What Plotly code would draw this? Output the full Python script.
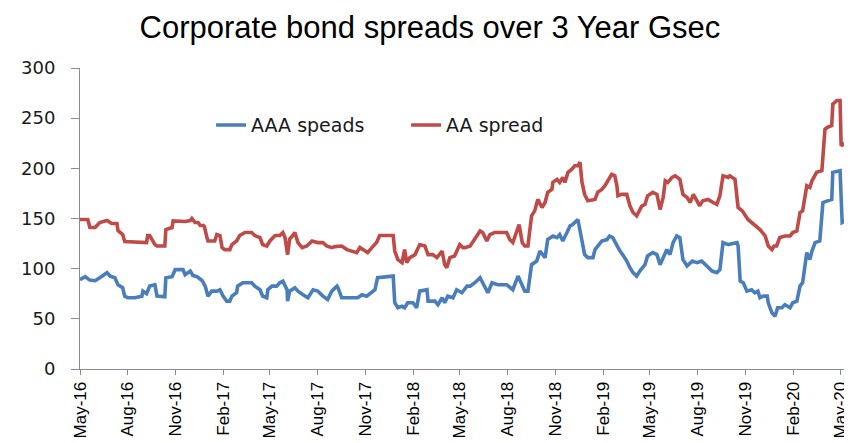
import plotly.graph_objects as go

# ---- data ----
aaa_dates = [
    "2016-05-01", "2016-05-11", "2016-05-20", "2016-05-30", "2016-06-08", "2016-06-22", "2016-06-28",
    "2016-07-07", "2016-07-13", "2016-07-22", "2016-07-26", "2016-08-01", "2016-08-14", "2016-08-28",
    "2016-08-30", "2016-09-06", "2016-09-12", "2016-09-22", "2016-09-26", "2016-10-11", "2016-10-13",
    "2016-10-25", "2016-10-31", "2016-11-15", "2016-11-19", "2016-11-29", "2016-12-04", "2016-12-12",
    "2016-12-22", "2016-12-28", "2017-01-02", "2017-01-09", "2017-01-19", "2017-01-25", "2017-01-31",
    "2017-02-07", "2017-02-13", "2017-02-17", "2017-02-26", "2017-02-28", "2017-03-10", "2017-03-27",
    "2017-04-02", "2017-04-12", "2017-04-17", "2017-04-25", "2017-04-27", "2017-05-05", "2017-05-14",
    "2017-05-20", "2017-05-26", "2017-06-03", "2017-06-04", "2017-06-08", "2017-06-18", "2017-06-24",
    "2017-07-03", "2017-07-13", "2017-07-23", "2017-08-01", "2017-08-11", "2017-08-20", "2017-08-28",
    "2017-09-07", "2017-09-09", "2017-09-16", "2017-10-17", "2017-10-25", "2017-11-03", "2017-11-13",
    "2017-11-19", "2017-11-24", "2017-12-24", "2017-12-27", "2018-01-02", "2018-01-10", "2018-01-15",
    "2018-01-21", "2018-01-31", "2018-02-07", "2018-02-13", "2018-02-27", "2018-03-01", "2018-03-14",
    "2018-03-20", "2018-03-28", "2018-04-02", "2018-04-08", "2018-04-18", "2018-04-25", "2018-05-05",
    "2018-05-15", "2018-05-21", "2018-05-30", "2018-06-09", "2018-06-14", "2018-06-24", "2018-07-02",
    "2018-07-13", "2018-07-30", "2018-08-05", "2018-08-11", "2018-08-21", "2018-08-29", "2018-09-03",
    "2018-09-09", "2018-09-16", "2018-09-26", "2018-10-02", "2018-10-12", "2018-10-17", "2018-10-27",
    "2018-11-04", "2018-11-09", "2018-11-15", "2018-11-23", "2018-11-29", "2018-12-04", "2018-12-14",
    "2018-12-22", "2018-12-27", "2019-01-02", "2019-01-12", "2019-01-16", "2019-01-21", "2019-01-29",
    "2019-02-08", "2019-02-13", "2019-02-19", "2019-02-27", "2019-03-05", "2019-03-10", "2019-03-18",
    "2019-03-24", "2019-03-30", "2019-04-06", "2019-04-12", "2019-04-22", "2019-04-27", "2019-05-07",
    "2019-05-15", "2019-05-21", "2019-05-27", "2019-06-03", "2019-06-09", "2019-06-15", "2019-06-22",
    "2019-06-28", "2019-07-04", "2019-07-12", "2019-07-22", "2019-07-31", "2019-08-09", "2019-08-19",
    "2019-08-29", "2019-09-07", "2019-09-13", "2019-09-19", "2019-09-29", "2019-10-16", "2019-10-18",
    "2019-10-22", "2019-10-28", "2019-11-04", "2019-11-13", "2019-11-19", "2019-11-25", "2019-11-29",
    "2019-12-05", "2019-12-13", "2019-12-15", "2019-12-22", "2019-12-28", "2020-01-02", "2020-01-10",
    "2020-01-16", "2020-01-26", "2020-01-31", "2020-02-08", "2020-02-14", "2020-02-19", "2020-02-27",
    "2020-03-04", "2020-03-08", "2020-03-14", "2020-03-23", "2020-03-29", "2020-04-07", "2020-04-15",
    "2020-04-17", "2020-04-27", "2020-05-01", "2020-05-05", "2020-05-10", "2020-05-16",
]
aaa_values = [
    89, 92, 88.6, 88, 91, 96, 92.6,
    91, 84, 81, 72.6, 71, 71, 72.6,
    77.6, 75, 82.6, 84, 72.6, 72, 91,
    92, 99, 99, 94, 97.6, 93.3, 92,
    88, 82, 72.6, 77.6, 77.6, 79, 72.6,
    67.6, 67.6, 72.6, 76, 82.6, 86, 86,
    82.6, 79, 72.6, 71, 79, 82.6, 82.6,
    86, 87.6, 79, 67.6, 77.6, 81, 77.6,
    74.3, 71, 79, 77.6, 72.6, 69.3, 77.6,
    82.6, 81, 71, 71, 74, 72.6, 76,
    79, 91, 92.6, 66, 61, 62.6, 61,
    66, 66, 61, 77.6, 79, 67.6, 67.6,
    64, 71, 66, 72.6, 71, 79, 76,
    82.6, 82.6, 86, 91, 86, 76, 86,
    84, 84, 81, 79, 92.6, 82.6, 77.6,
    77.6, 104, 107.6, 117.6, 111, 129, 132.6,
    131, 134, 127.6, 136, 142.6, 144, 149,
    127.6, 114, 111, 111, 119, 122.6, 127.6,
    129, 132.6, 131, 122.6, 117.6, 114, 107.6,
    101, 96, 92.6, 97.6, 104, 112.6, 116,
    114, 104, 111, 119, 114, 126, 132.6,
    131, 109, 102.6, 107.6, 106, 107.6, 102.6,
    97.6, 96, 99, 126, 124, 126, 122.6,
    87.6, 86, 77.6, 79, 76, 77.6, 71,
    72.6, 72.6, 66, 56, 52.6, 61, 61,
    64, 61, 66, 67.6, 82.6, 86, 116,
    109, 117.6, 126, 127.6, 166, 167.6, 169,
    196, 197.6, 197.6, 146, 147.6, 149,
]

aa_dates = [
    "2016-05-01", "2016-05-16", "2016-05-20", "2016-05-30", "2016-06-08", "2016-06-22", "2016-07-01",
    "2016-07-11", "2016-07-13", "2016-07-22", "2016-07-26", "2016-09-06", "2016-09-08", "2016-09-12",
    "2016-09-22", "2016-09-26", "2016-10-11", "2016-10-13", "2016-10-25", "2016-10-27", "2016-11-19",
    "2016-11-29", "2016-12-02", "2016-12-08", "2016-12-14", "2016-12-18", "2016-12-24", "2016-12-26",
    "2016-12-31", "2017-01-02", "2017-01-15", "2017-01-19", "2017-01-25", "2017-01-29", "2017-02-03",
    "2017-02-13", "2017-02-17", "2017-02-26", "2017-03-04", "2017-03-14", "2017-03-27", "2017-04-02",
    "2017-04-12", "2017-04-17", "2017-04-25", "2017-05-01", "2017-05-11", "2017-05-20", "2017-05-26",
    "2017-05-30", "2017-06-04", "2017-06-08", "2017-06-14", "2017-06-18", "2017-06-24", "2017-07-02",
    "2017-07-11", "2017-07-21", "2017-08-01", "2017-08-11", "2017-08-18", "2017-08-28", "2017-09-03",
    "2017-09-16", "2017-09-26", "2017-10-05", "2017-10-15", "2017-10-21", "2017-10-27", "2017-11-05",
    "2017-11-13", "2017-11-22", "2017-11-28", "2017-12-24", "2017-12-27", "2018-01-02", "2018-01-10",
    "2018-01-15", "2018-01-19", "2018-01-25", "2018-02-04", "2018-02-13", "2018-02-23", "2018-03-01",
    "2018-03-10", "2018-03-18", "2018-03-28", "2018-04-02", "2018-04-06", "2018-04-12", "2018-04-21",
    "2018-05-01", "2018-05-07", "2018-05-11", "2018-05-21", "2018-05-30", "2018-06-09", "2018-06-14",
    "2018-06-22", "2018-06-28", "2018-07-07", "2018-07-30", "2018-08-05", "2018-08-11", "2018-08-19",
    "2018-08-23", "2018-08-29", "2018-09-03", "2018-09-09", "2018-09-16", "2018-09-22", "2018-09-28",
    "2018-10-06", "2018-10-12", "2018-10-17", "2018-10-25", "2018-10-27", "2018-11-04", "2018-11-09",
    "2018-11-15", "2018-11-19", "2018-11-25", "2018-12-02", "2018-12-08", "2018-12-14", "2018-12-18",
    "2018-12-22", "2018-12-27", "2019-01-02", "2019-01-12", "2019-01-16", "2019-01-21", "2019-01-29",
    "2019-02-04", "2019-02-10", "2019-02-17", "2019-02-23", "2019-02-27", "2019-03-01", "2019-03-08",
    "2019-03-18", "2019-03-24", "2019-03-30", "2019-04-06", "2019-04-16", "2019-04-22", "2019-04-27",
    "2019-05-07", "2019-05-15", "2019-05-21", "2019-05-27", "2019-05-31", "2019-06-05", "2019-06-13",
    "2019-06-19", "2019-06-28", "2019-07-04", "2019-07-12", "2019-07-18", "2019-07-24", "2019-07-31",
    "2019-08-05", "2019-08-11", "2019-08-21", "2019-08-31", "2019-09-07", "2019-09-13", "2019-09-19",
    "2019-09-29", "2019-10-02", "2019-10-12", "2019-10-18", "2019-10-26", "2019-10-31", "2019-11-06",
    "2019-11-13", "2019-11-23", "2019-11-29", "2019-12-09", "2019-12-15", "2019-12-22", "2019-12-26",
    "2019-12-31", "2020-01-06", "2020-01-16", "2020-01-26", "2020-01-31", "2020-02-08", "2020-02-14",
    "2020-02-19", "2020-02-27", "2020-03-04", "2020-03-08", "2020-03-17", "2020-03-27", "2020-04-02",
    "2020-04-07", "2020-04-15", "2020-04-17", "2020-04-25", "2020-05-01", "2020-05-03", "2020-05-07",
    "2020-05-14",
]
aa_values = [
    149, 149, 141, 141, 146, 148, 145,
    145, 138, 134, 127, 126, 133, 133,
    124, 122.6, 122.6, 139, 141, 147.6, 147,
    148, 150, 146, 146, 143, 143, 142,
    131, 127.6, 127.6, 134, 133, 121, 119,
    119, 124, 127.6, 133, 136, 136, 133,
    131, 124, 122.6, 127.6, 133, 133, 136,
    131, 114, 129.6, 133, 136, 126, 121,
    122.6, 127.6, 126, 126, 122.6, 121, 122,
    122.6, 119, 117.6, 116, 121, 119, 116,
    121, 126, 133, 133, 117.6, 109, 106,
    119, 106, 111, 114, 124, 122.6, 114,
    114, 111, 117.6, 104, 101, 111, 112.6,
    124, 121, 121, 122.6, 129, 137.6, 136,
    127.6, 134, 136, 136, 129, 126, 139,
    144, 126, 122.6, 122.6, 152.6, 157.6, 169,
    161, 166, 176, 179, 186, 189, 186,
    191, 186, 196, 199, 202.6, 202.6, 206,
    186, 174, 167.6, 169, 169, 176, 179,
    182.6, 187.6, 194, 192.6, 182.6, 172.6, 174,
    174, 162.6, 156, 152.6, 162.6, 164, 172.6,
    176, 174, 159, 171, 187.6, 186, 191,
    192.6, 189, 174, 171, 166, 174, 167.6,
    162.6, 167.6, 169, 166, 164, 172.6, 192.6,
    191, 192.6, 189, 161, 157.6, 154, 149,
    146, 141, 139, 132.6, 122.6, 119, 122.6,
    122.6, 131, 132.6, 132.6, 136, 137.6, 156,
    157.6, 182.6, 181, 187.6, 196, 197.6, 239,
    241, 242.6, 264, 267.6, 267.6, 222.6, 224,
    225.6,
]

tick_dates = [
    "2016-05-01", "2016-08-01", "2016-11-01", "2017-02-01", "2017-05-01", "2017-08-01",
    "2017-11-01", "2018-02-01", "2018-05-01", "2018-08-01", "2018-11-01", "2019-02-01",
    "2019-05-01", "2019-08-01", "2019-11-01", "2020-02-01", "2020-05-01",
]
tick_labels = [
    "May-16", "Aug-16", "Nov-16", "Feb-17", "May-17", "Aug-17", "Nov-17", "Feb-18", "May-18",
    "Aug-18", "Nov-18", "Feb-19", "May-19", "Aug-19", "Nov-19", "Feb-20", "May-20",
]
y_ticks = [0, 50, 100, 150, 200, 250, 300]

fig = go.Figure()
fig.add_trace(go.Scatter(x=aaa_dates, y=aaa_values, mode="lines", name="AAA speads",
                         line=dict(color="#4A7EBB", width=3.6)))
fig.add_trace(go.Scatter(x=aa_dates, y=aa_values, mode="lines", name="AA spread",
                         line=dict(color="#BE4B48", width=3.6)))

axis_color = "#8C8C8C"
# the page body adds an 8px offset, so the figure is sized to fill the rest of the window
fig.update_layout(
    width=844, height=435,
    paper_bgcolor="white", plot_bgcolor="white",
    margin=dict(l=72, r=1, t=60, b=74),
    title=dict(text="Corporate bond spreads over 3 Year Gsec", x=0.5, xanchor="center",
               y=0.956, yanchor="middle", yref="container",
               font=dict(family="Liberation Sans, Arial", size=31, color="#000000")),
    legend=dict(orientation="h", x=0.17, y=0.81, xanchor="left", yanchor="middle",
                font=dict(family="DejaVu Sans, Open Sans", size=19, color="#1A1A1A"),
                bgcolor="rgba(0,0,0,0)", entrywidth=150, entrywidthmode="pixels",
                tracegroupgap=0),
    showlegend=True,
)
fig.update_xaxes(
    type="date", range=["2016-05-01", "2020-05-22"],
    tickmode="array", tickvals=tick_dates, ticktext=tick_labels, tickangle=-90,
    tickfont=dict(family="Liberation Sans, Arial", size=17, color="#000000"),
    showline=True, linecolor=axis_color, linewidth=1,
    ticks="outside", ticklen=5, tickcolor=axis_color,
    showgrid=False, zeroline=False,
)
fig.update_yaxes(
    range=[0, 300], tickmode="array", tickvals=y_ticks,
    tickfont=dict(family="DejaVu Sans, Open Sans", size=18, color="#1A1A1A"),
    showline=True, linecolor=axis_color, linewidth=1,
    ticks="outside", ticklen=8, tickcolor=axis_color, ticklabelstandoff=12,
    showgrid=False, zeroline=False,
)

fig.write_html("out.html")
